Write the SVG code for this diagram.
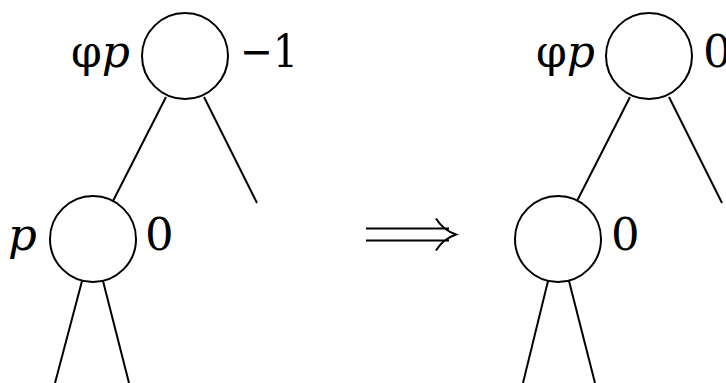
<svg xmlns="http://www.w3.org/2000/svg" width="726" height="383" viewBox="0 0 726 383">
<style>
.n{fill:#fff;stroke:#000;stroke-width:2}
.e{stroke:#000;stroke-width:2;fill:none}
.t{font-family:'DejaVu Serif',serif;font-size:45px;fill:#000}
.i{font-style:italic}
</style>
<rect width="726" height="383" fill="#fff"/>
<g id="connectors">
<line class="e" x1="166" y1="97" x2="113" y2="201"/>
<line class="e" x1="204" y1="97" x2="257" y2="203"/>
<line class="e" x1="82" y1="281" x2="55" y2="383"/>
<line class="e" x1="103" y1="281" x2="129" y2="383"/>
<line class="e" x1="630" y1="97" x2="577" y2="201"/>
<line class="e" x1="669" y1="97" x2="722" y2="203"/>
<line class="e" x1="548" y1="281" x2="523" y2="383"/>
<line class="e" x1="569" y1="281" x2="595" y2="383"/>
</g>
<g id="left-top">
<circle class="n" cx="185" cy="56" r="43"/>
<text class="t" x="71" y="67" textLength="59" lengthAdjust="spacingAndGlyphs">φ<tspan class="i">p</tspan></text>
<text class="t" x="240" y="67" textLength="58" lengthAdjust="spacingAndGlyphs">−1</text>
</g>
<g id="left-bottom">
<circle class="n" cx="93" cy="239" r="43"/>
<text class="t i" x="8" y="250">p</text>
<text class="t" x="145" y="250">0</text>
</g>
<g id="arrow">
<path class="e" d="M366 228.5H449M366 240.5H449M436 218.5Q443 230 456 234.5Q443 239 436 250.5"/>
</g>
<g id="right-top">
<circle class="n" cx="649" cy="56" r="43"/>
<text class="t" x="536" y="67" textLength="59" lengthAdjust="spacingAndGlyphs">φ<tspan class="i">p</tspan></text>
<text class="t" x="703" y="67">0</text>
</g>
<g id="right-bottom">
<circle class="n" cx="558" cy="239" r="43"/>
<text class="t" x="611" y="250">0</text>
</g>
</svg>
